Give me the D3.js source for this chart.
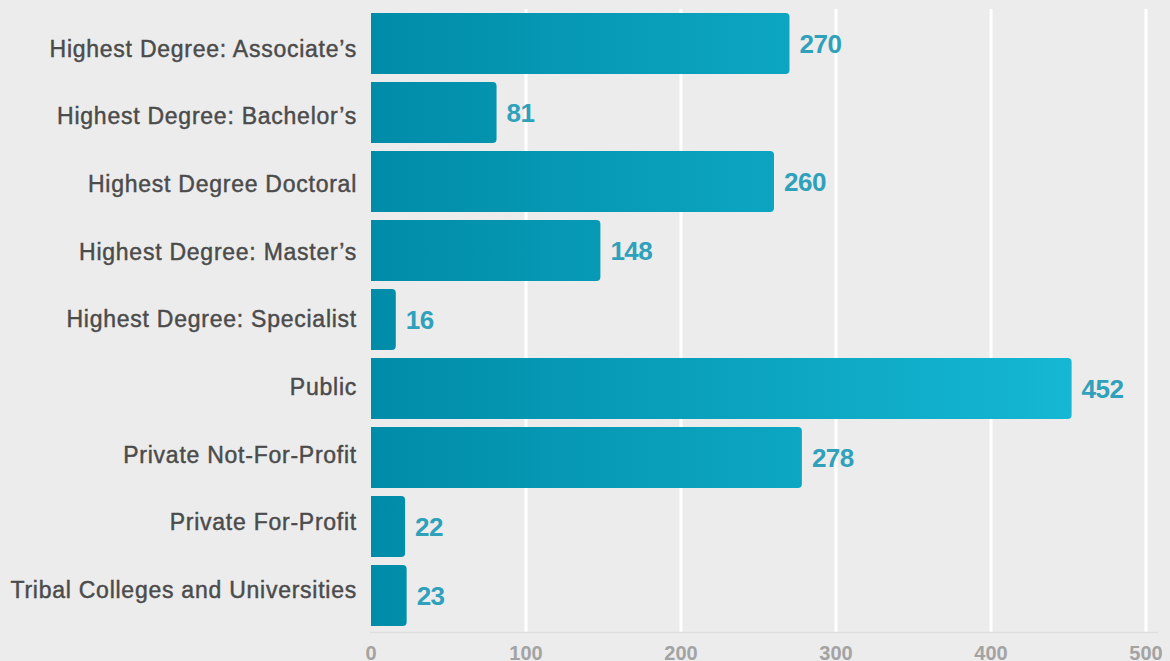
<!DOCTYPE html>
<html>
<head>
<meta charset="utf-8">
<script src="https://cdn.jsdelivr.net/npm/d3@7"></script>
<style>
  html, body { margin: 0; padding: 0; background: #ececec; }
  svg { display: block; }
</style>
</head>
<body>
<svg id="chart" width="1170" height="661"></svg>
<script>
const categories = [
  "Highest Degree: Associate’s",
  "Highest Degree: Bachelor’s",
  "Highest Degree Doctoral",
  "Highest Degree: Master’s",
  "Highest Degree: Specialist",
  "Public",
  "Private Not-For-Profit",
  "Private For-Profit",
  "Tribal Colleges and Universities"
];
const values = [270, 81, 260, 148, 16, 452, 278, 22, 23];
const tickValues = [0, 100, 200, 300, 400, 500];

const svg = d3.select("#chart");
const W = 1170, H = 661;
svg.append("rect").attr("width", W).attr("height", H).attr("fill", "#ececec");

const x = d3.scaleLinear().domain([0, 500]).range([371, 1146]);
const y = d3.scaleBand().domain(categories).range([9, 630]).paddingInner(0.116).paddingOuter(0.058);
// category labels sit on their own evenly spaced baselines
const yLabel = d3.scalePoint().domain(categories).range([56.7, 598]);

const defs = svg.append("defs");
const grad = defs.append("linearGradient").attr("id", "barGrad")
  .attr("gradientUnits", "userSpaceOnUse")
  .attr("x1", x(0)).attr("x2", x(500)).attr("y1", 0).attr("y2", 0);
grad.append("stop").attr("offset", 0).attr("stop-color", "#008ca8");
grad.append("stop").attr("offset", 1).attr("stop-color", "#17bcd8");

// gridlines
svg.append("g").selectAll("line").data(tickValues.slice(1)).join("line")
  .attr("x1", d => x(d)).attr("x2", d => x(d))
  .attr("y1", 9).attr("y2", 632)
  .attr("stroke", "#ffffff").attr("stroke-width", 3);

// axis baseline
svg.append("line").attr("x1", 370).attr("x2", 1158).attr("y1", 632.5).attr("y2", 632.5)
  .attr("stroke", "#dddddd").attr("stroke-width", 1.5);

// bars with rounded right corners
const r = 4;
function barPath(d, i) {
  const x0 = x(0), x1 = x(values[i]), y0 = y(d), h = y.bandwidth();
  const rr = Math.min(r, (x1 - x0) / 2);
  return `M${x0},${y0} H${x1 - rr} Q${x1},${y0} ${x1},${y0 + rr} V${y0 + h - rr} Q${x1},${y0 + h} ${x1 - rr},${y0 + h} H${x0} Z`;
}
svg.append("g").selectAll("path").data(categories).join("path")
  .attr("d", (d, i) => barPath(d, i))
  .attr("fill", "url(#barGrad)");

// value labels
svg.append("g").selectAll("text").data(categories).join("text")
  .attr("x", (d, i) => x(values[i]) + 10)
  .attr("y", d => y(d) + y.bandwidth() / 2 + 9.5)
  .attr("font-family", "Liberation Sans, Arial, sans-serif")
  .attr("font-weight", "bold")
  .attr("font-size", 26)
  .attr("letter-spacing", -0.5)
  .attr("fill", "#2fa1bb")
  .text((d, i) => values[i]);

// category labels
svg.append("g").selectAll("text").data(categories).join("text")
  .attr("x", 357)
  .attr("y", d => yLabel(d))
  .attr("text-anchor", "end")
  .attr("font-family", "Liberation Sans, Arial, sans-serif")
  .attr("font-size", 23)
  .attr("letter-spacing", 0.75)
  .attr("fill", "#4b4b4b")
  .attr("stroke", "#4b4b4b")
  .attr("stroke-width", 0.45)
  .text(d => d);

// x tick labels
svg.append("g").selectAll("text").data(tickValues).join("text")
  .attr("x", d => x(d))
  .attr("y", 660)
  .attr("text-anchor", "middle")
  .attr("font-family", "Liberation Sans Narrow, Liberation Sans, Arial, sans-serif")
  .attr("font-weight", "bold")
  .attr("font-size", 20)
  .attr("fill", "#a3a3a3")
  .text(d => d);
</script>
</body>
</html>
